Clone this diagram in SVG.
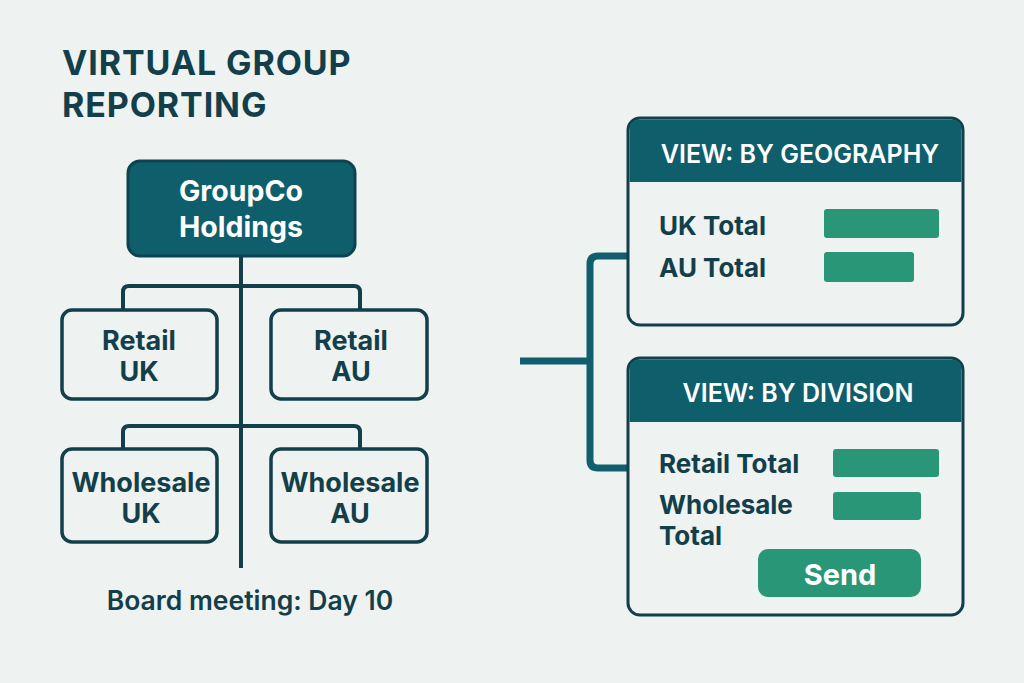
<svg xmlns="http://www.w3.org/2000/svg" width="1024" height="683" viewBox="0 0 1024 683">
<style>
.t{font-family:Inter,"Liberation Sans",sans-serif;font-weight:700;fill:#133f4b}
.w{font-family:Inter,"Liberation Sans",sans-serif;font-weight:700;fill:#ffffff}
.box{fill:#eef2f0;stroke:#133f4b;stroke-width:3.5}
.panel{fill:#eef2f0;stroke:#133f4b;stroke-width:3}
.hdr{fill:#0f5e6c}
.bar{fill:#2a9678}
.tree{fill:none;stroke:#133f4b;stroke-width:4}
.link{fill:none;stroke:#115f6e;stroke-width:7}
</style>
<rect width="1024" height="683" fill="#eef2f0"/>
<g id="title">
<text class="t" x="62" y="75" font-size="34" letter-spacing="0.9">VIRTUAL GROUP</text>
<text class="t" x="62" y="117" font-size="34" letter-spacing="0.9">REPORTING</text>
</g>
<g id="connectors">
<path class="tree" d="M241 256 V568"/>
<path class="tree" d="M123 310 V292 Q123 286 129 286 H354 Q360 286 360 292 V310"/>
<path class="tree" d="M123 449 V432 Q123 426 129 426 H354 Q360 426 360 432 V449"/>
<path class="link" d="M520 361 H590"/>
<path class="link" d="M628 256 H598 Q590 256 590 264 V460 Q590 468 598 468 H628"/>
</g>
<g id="groupco">
<rect x="128" y="161" width="227" height="95" rx="12" fill="#0f5e6c" stroke="#0d4350" stroke-width="3"/>
<text class="w" x="241" y="201" font-size="28.5" text-anchor="middle">GroupCo</text>
<text class="w" x="241" y="237" font-size="28.5" text-anchor="middle">Holdings</text>
</g>
<g id="retail-uk">
<rect class="box" x="62" y="310" width="155" height="89" rx="10"/>
<text class="t" x="139" y="350" font-size="27" text-anchor="middle">Retail</text>
<text class="t" x="139" y="381" font-size="27" text-anchor="middle">UK</text>
</g>
<g id="retail-au">
<rect class="box" x="271" y="310" width="156" height="89" rx="10"/>
<text class="t" x="351" y="350" font-size="27" text-anchor="middle">Retail</text>
<text class="t" x="351" y="381" font-size="27" text-anchor="middle">AU</text>
</g>
<g id="wholesale-uk">
<rect class="box" x="62" y="449" width="155" height="93" rx="10"/>
<text class="t" x="141" y="492" font-size="27" text-anchor="middle">Wholesale</text>
<text class="t" x="141" y="523" font-size="27" text-anchor="middle">UK</text>
</g>
<g id="wholesale-au">
<rect class="box" x="271" y="449" width="156" height="93" rx="10"/>
<text class="t" x="350" y="492" font-size="27" text-anchor="middle">Wholesale</text>
<text class="t" x="350" y="523" font-size="27" text-anchor="middle">AU</text>
</g>
<g id="board-meeting">
<text class="t" x="250" y="610" font-size="26.5" text-anchor="middle" style="font-weight:600">Board meeting: Day 10</text>
</g>
<g id="view-geography">
<rect class="panel" x="628" y="118" width="335" height="207" rx="12"/>
<path class="hdr" d="M640 119.5 H951 Q961.5 119.5 961.5 130 V182 H629.5 V130 Q629.5 119.5 640 119.5 Z"/>
<text class="w" x="800" y="163" font-size="25" text-anchor="middle" style="font-weight:600">VIEW: BY GEOGRAPHY</text>
<text class="t" x="659" y="235" font-size="26">UK Total</text>
<text class="t" x="659" y="277" font-size="26">AU Total</text>
<rect class="bar" x="824" y="209" width="115" height="29" rx="3"/>
<rect class="bar" x="824" y="252" width="90" height="30" rx="3"/>
</g>
<g id="view-division">
<rect class="panel" x="628" y="358" width="335" height="257" rx="12"/>
<path class="hdr" d="M640 359.5 H951 Q961.5 359.5 961.5 370 V422 H629.5 V370 Q629.5 359.5 640 359.5 Z"/>
<text class="w" x="798" y="402" font-size="25" text-anchor="middle" style="font-weight:600">VIEW: BY DIVISION</text>
<text class="t" x="659" y="473" font-size="26">Retail Total</text>
<text class="t" x="659" y="514" font-size="26">Wholesale</text>
<text class="t" x="659" y="545" font-size="26">Total</text>
<rect class="bar" x="833" y="449" width="106" height="28" rx="3"/>
<rect class="bar" x="833" y="492" width="88" height="28" rx="3"/>
</g>
<g id="send-button">
<rect class="bar" x="758" y="549" width="163" height="48" rx="10"/>
<text class="w" x="840" y="585" font-size="29" text-anchor="middle">Send</text>
</g>
</svg>
